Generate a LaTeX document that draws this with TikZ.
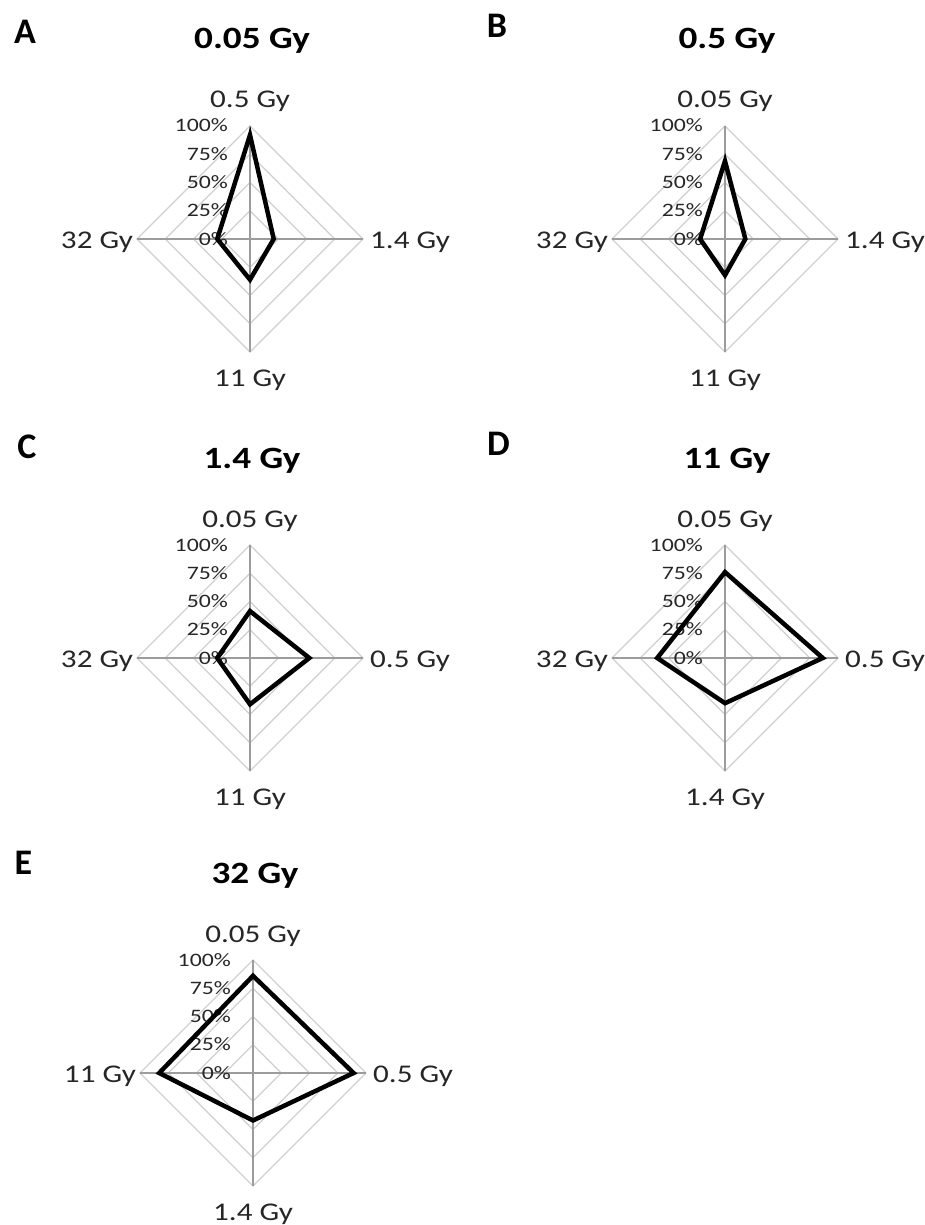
\documentclass[tikz,border=0pt]{standalone}
\usepackage{fontspec}
\setmainfont{Carlito}
\newfontfamily\axfont[FakeStretch=1.22]{Carlito}
\newfontfamily\pcfont[FakeStretch=1.25]{Carlito}
\newfontfamily\ttlfont[FakeStretch=1.2]{Carlito}
\newfontfamily\letfont{Carlito}
\definecolor{gridc}{HTML}{D0D0D0}
\definecolor{axisc}{HTML}{9C9C9C}
\definecolor{txtc}{HTML}{262626}
\tikzset{
  gridline/.style={draw=gridc, line width=1.1pt},
  axisline/.style={draw=axisc, line width=1.3pt},
  dataline/.style={draw=black, line width=4.5pt, line join=miter},
  lab/.style={inner sep=0pt, text=txtc, font=\axfont\fontsize{25.5}{30}\selectfont},
  pct/.style={inner sep=0pt, anchor=base east, text=txtc, font=\pcfont\fontsize{19}{22}\selectfont},
  ttl/.style={inner sep=0pt, anchor=base, text=black, font=\ttlfont\bfseries\fontsize{31}{36}\selectfont},
  letter/.style={inner sep=0pt, text=black, font=\letfont\bfseries\fontsize{36}{40}\selectfont},
}
% #1 prefix, #2 cx, #3 cy, #4 title, #5 top, #6 right, #7 bottom, #8 left
\newcommand\radarchart[8]{%
  \begin{scope}[shift={(#2,#3)}]
    \foreach \k in {1,2,3,4}{%
      \draw[gridline] (0,-28.25*\k) -- (28.25*\k,0) -- (0,28.25*\k) -- (-28.25*\k,0) -- cycle;
    }
    \draw[axisline] (0,-113) -- (0,113) (-113,0) -- (113,0);
    \node[pct] (#1-p0) at (-22,6) {0\%};
    \node[pct] (#1-p1) at (-22,-28.25+6) {25\%};
    \node[pct] (#1-p2) at (-22,-56.5+6) {50\%};
    \node[pct] (#1-p3) at (-22,-84.75+6) {75\%};
    \node[pct] (#1-p4) at (-22,-113+6) {100\%};
    \node[lab, anchor=base] (#1-top) at (0,-131) {#5};
    \node[lab, anchor=base west] (#1-right) at (120,9) {#6};
    \node[lab, anchor=base] (#1-bottom) at (0,147) {#7};
    \node[lab, anchor=base east] (#1-left) at (-117,9) {#8};
    \node[ttl] (#1-title) at (2,-190) {#4};
  \end{scope}}
% #1 prefix, #2 cx, #3 cy, #4 top, #5 right, #6 bottom, #7 left (fractions)
\newcommand\radardata[7]{%
  \begin{scope}[shift={(#2,#3)}]
    \coordinate (#1-dt) at (0,{-113*#4});
    \coordinate (#1-dr) at ({113*#5},0);
    \coordinate (#1-db) at (0,{113*#6});
    \coordinate (#1-dl) at ({-113*#7},0);
    \draw[dataline] (#1-dt) -- (#1-dr) -- (#1-db) -- (#1-dl) -- cycle;
  \end{scope}}
\begin{document}
\begin{tikzpicture}[x=1pt,y=-1pt]
\useasboundingbox (0,0) rectangle (924,1225);
\radarchart{A}{250}{239}{0.05 Gy}{0.5 Gy}{1.4 Gy}{11 Gy}{32 Gy}
\radardata{A}{250}{239}{0.92}{0.21}{0.36}{0.29}
\radarchart{B}{725}{239}{0.5 Gy}{0.05 Gy}{1.4 Gy}{11 Gy}{32 Gy}
\radardata{B}{725}{239}{0.69}{0.18}{0.32}{0.22}
\radarchart{C}{250}{658}{1.4 Gy}{0.05 Gy}{0.5 Gy}{11 Gy}{32 Gy}
\radardata{C}{250}{658}{0.415}{0.525}{0.41}{0.29}
\radarchart{D}{725}{658}{11 Gy}{0.05 Gy}{0.5 Gy}{1.4 Gy}{32 Gy}
\radardata{D}{725}{658}{0.76}{0.865}{0.40}{0.60}
\radarchart{E}{253}{1073}{32 Gy}{0.05 Gy}{0.5 Gy}{1.4 Gy}{11 Gy}
\radardata{E}{253}{1073}{0.86}{0.89}{0.42}{0.83}
\node[letter] (letA) at (25,32) {A};
\node[letter] (letB) at (497,26) {B};
\node[letter] (letC) at (27,447) {C};
\node[letter] (letD) at (498.5,444) {D};
\node[letter] (letE) at (23.5,862.5) {E};
\end{tikzpicture}
\end{document}
